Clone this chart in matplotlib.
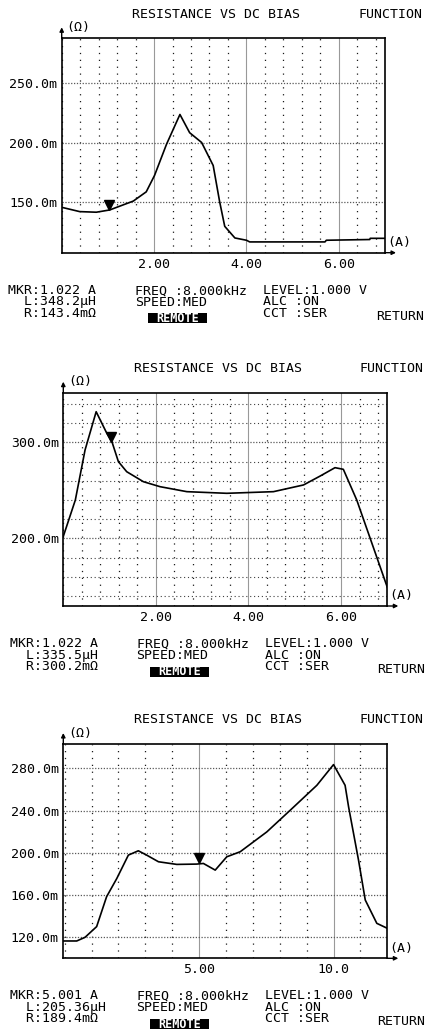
import numpy as np
import matplotlib
matplotlib.use('Agg')
import matplotlib.pyplot as plt
from matplotlib.ticker import MultipleLocator
from matplotlib.transforms import offset_copy
from matplotlib.patches import Rectangle

W, H = 427, 1030

bias1 = [0.0, 0.39, 0.75, 1.04, 1.55, 1.83, 2.01, 2.27, 2.56, 2.77, 3.03,
         3.28, 3.42, 3.53, 3.75, 4.0, 4.07, 5.7, 5.73, 6.67, 6.68, 7.0]
res1 = [145.9, 142.3, 141.8, 143.7, 151.1, 158.8, 172.5, 198.6, 223.4, 208.2,
        200.0, 180.8, 150.5, 130.0, 120.3, 118.4, 117.0, 117.0, 118.4, 119.0,
        120.0, 120.0]

bias2 = [0.0, 0.26, 0.47, 0.71, 0.94, 1.05, 1.19, 1.37, 1.73, 2.09, 2.67,
         3.53, 4.54, 5.19, 5.55, 5.87, 6.05, 6.34, 6.63, 7.0]
res2 = [202.0, 239.9, 292.0, 331.9, 309.4, 300.7, 279.9, 269.4, 259.0, 253.8,
        248.6, 246.9, 248.6, 255.6, 264.9, 273.6, 271.9, 239.9, 200.0, 149.0]

bias3 = [-0.05, 0.45, 0.76, 1.19, 1.56, 1.94, 2.37, 2.74, 3.05, 3.49, 4.17,
         4.91, 5.16, 5.6, 6.03, 6.53, 7.52, 8.39, 9.38, 10.0, 10.43, 10.56,
         10.93, 11.18, 11.61, 12.0]
res3 = [116.5, 116.5, 120.0, 130.1, 158.4, 175.7, 197.8, 201.9, 197.8, 191.5,
        189.0, 189.3, 189.9, 183.6, 196.2, 201.0, 219.8, 240.3, 263.9, 283.5,
        263.9, 243.5, 193.0, 155.3, 133.2, 128.5]

xticks1 = [2, 4, 6]
xlabels1 = ['2.00', '4.00', '6.00']
yticks1 = [150, 200, 250]
xticks2 = [2, 4, 6]
xlabels2 = ['2.00', '4.00', '6.00']
yticks2 = [200, 300]
xticks3 = [5, 10]
xlabels3 = ['5.00', '10.0']
yticks3 = [120, 160, 200, 240, 280]

mkr1 = (1.022, 143.4)
mkr2 = (1.022, 300.2)
mkr3 = (5.0, 189.4)

info1 = ['MKR:1.022 A', '  L:348.2µH', '  R:143.4mΩ']
info2 = ['MKR:1.022 A', '  L:335.5µH', '  R:300.2mΩ']
info3 = ['MKR:5.001 A', '  L:205.36µH', '  R:189.4mΩ']
freq_lines = ['FREQ :8.000kHz', 'SPEED:MED']
level_lines = ['LEVEL:1.000 V', 'ALC :ON', 'CCT :SER']

plt.rcParams['font.family'] = 'DejaVu Sans Mono'
FS = 9.5
LS = 0.86   # tight line spacing of the instrument font

fig = plt.figure(figsize=(W / 100, H / 100), dpi=100)


def px(x, y):
    return x / W, 1 - y / H


def block(x, y, lines):
    # y = centre of the first line, lines are ~10.8 px apart
    yc = y + 10.8 * (len(lines) - 1) / 2
    fig.text(*px(x, yc), '\n'.join(lines), fontsize=FS, va='center', ha='left',
             linespacing=LS)


def draw_panel(box, bias, res, xlim, ylim, xticks, xlabels, yticks,
               xminor, yminor, mkr, info):
    left, top, right, bottom = box
    ax = fig.add_axes([left / W, 1 - bottom / H, (right - left) / W, (bottom - top) / H])
    ax.set_xlim(*xlim)
    ax.set_ylim(*ylim)

    ax.set_xticks(xticks)
    ax.set_xticklabels(xlabels)
    ax.set_yticks(yticks)
    ax.set_yticklabels(['%.1fm' % v for v in yticks])
    ax.tick_params(length=0, labelsize=FS)
    ax.tick_params(axis='y', pad=3.2)
    ax.tick_params(axis='x', pad=3.5)

    # grid: sparse dots for the minor divisions, denser for the major ones
    ax.xaxis.set_minor_locator(MultipleLocator(xminor))
    ax.xaxis.grid(True, which='minor', color='0.1', linestyle=(0, (1, 4.5)), lw=0.9)
    if yminor:
        ax.yaxis.set_minor_locator(MultipleLocator(yminor))
        ax.yaxis.grid(True, which='minor', color='0.25', linestyle=(0, (1, 2.5)), lw=0.8)
    ax.xaxis.grid(True, which='major', color='0.6', linestyle='-', lw=0.8)
    ax.yaxis.grid(True, which='major', color='0.35', linestyle=(0, (1, 1.3)), lw=0.9)
    ax.tick_params(which='minor', length=0)
    ax.set_axisbelow(True)

    for s in ax.spines.values():
        s.set_linewidth(1.2)
        s.set_color('black')

    ax.plot(bias, res, color='black', lw=1.2, zorder=3)
    # marker triangle sits just above the trace
    tr = offset_copy(ax.transData, fig=fig, x=0, y=5.5, units='dots')
    ax.plot([mkr[0]], [mkr[1]], marker='v', ms=7.5, color='black',
            transform=tr, zorder=4, clip_on=False)

    # axis arrows
    bw, bh = right - left, bottom - top
    ax.annotate('', xy=(0, 1 + 11 / bh), xytext=(0, 1), xycoords='axes fraction',
                annotation_clip=False,
                arrowprops=dict(arrowstyle='-|>', lw=1.0, color='black',
                                mutation_scale=6, shrinkA=0, shrinkB=0))
    ax.annotate('', xy=(1 + 11 / bw, 0), xytext=(1, 0), xycoords='axes fraction',
                annotation_clip=False,
                arrowprops=dict(arrowstyle='-|>', lw=1.0, color='black',
                                mutation_scale=6, shrinkA=0, shrinkB=0))

    fig.text(*px(left + 5, top - 11), '(Ω)', fontsize=FS, va='center', ha='left')
    fig.text(*px(right + 2, bottom - 10), '(A)', fontsize=FS, va='center', ha='left')
    fig.text(*px(left + 70.6, top - 24.3), 'RESISTANCE VS DC BIAS', fontsize=FS,
             va='center', ha='left')
    fig.text(*px(left + 296.6, top - 24.3), 'FUNCTION', fontsize=FS, va='center', ha='left')

    block(left - 53.4, bottom + 38.3, info)
    block(left + 73.3, bottom + 38.3, freq_lines)
    block(left + 201.6, bottom + 38.3, level_lines)

    # inverted REMOTE badge
    x0, y0 = px(left + 86.6, bottom + 70.6)
    fig.add_artist(Rectangle((x0, y0), 59 / W, 10 / H, transform=fig.transFigure,
                             facecolor='black', edgecolor='none'))
    fig.text(*px(left + 116.1, bottom + 65.8), 'REMOTE', fontsize=8.5, color='white',
             va='center', ha='center', fontweight='bold')
    fig.text(*px(left + 314, bottom + 63.3), 'RETURN', fontsize=FS, va='center', ha='left')
    return ax


draw_panel((61.7, 38.3, 385.0, 252.7), bias1, res1, (0, 7), (108, 287),
           xticks1, xlabels1, yticks1, 0.4, None, mkr1, info1)
draw_panel((63.3, 392.7, 387.3, 606.0), bias2, res2, (0, 7), (129.5, 351.7),
           xticks2, xlabels2, yticks2, 0.4, 20, mkr2, info2)
draw_panel((63.3, 744.0, 387.3, 958.3), bias3, res3, (-0.05, 12.0), (100.1, 303.0),
           xticks3, xlabels3, yticks3, 1.0, None, mkr3, info3)

fig.savefig('out.png', dpi=100, facecolor='white')
